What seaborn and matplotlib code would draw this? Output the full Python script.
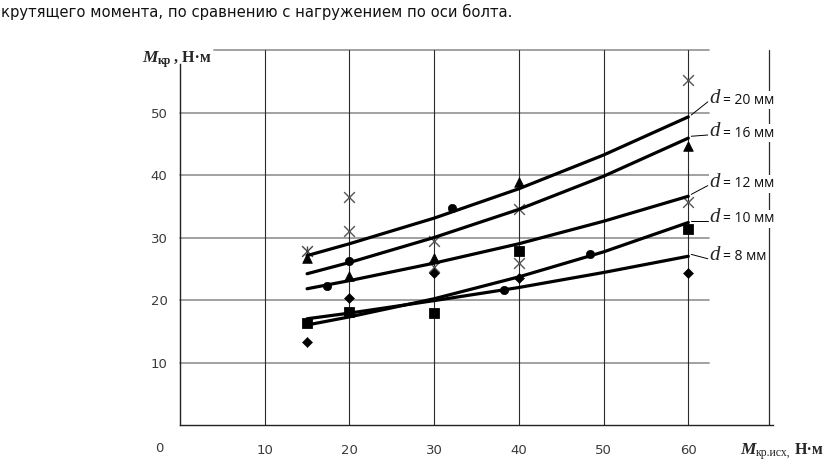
import matplotlib
matplotlib.use("Agg")
import matplotlib.pyplot as plt
import numpy as np
import pandas as pd
import seaborn as sns

# ---------------- data ----------------
title_text = "крутящего момента, по сравнению с нагружением по оси болта."

diameters = [20, 16, 12, 10, 8]
curve_x = [15, 20, 30, 40, 50, 60]
curve_d20 = [27.1, 29.0, 33.1, 37.8, 43.2, 49.3]
curve_d16 = [24.2, 26.0, 30.0, 34.5, 39.8, 45.9]
curve_d12 = [21.8, 23.1, 25.9, 29.0, 32.6, 36.6]
curve_d10 = [16.0, 17.3, 20.2, 23.7, 27.7, 32.4]
curve_d8 = [17.0, 17.9, 19.9, 22.0, 24.4, 27.0]

cross_x = [20, 20, 30, 30, 40, 40, 60, 60]
cross_y = [36.5, 31.0, 29.5, 25.3, 34.5, 25.9, 55.2, 35.7]
aster_x = [15]
aster_y = [27.8]
tri_x = [15, 20, 30, 40, 60]
tri_y = [26.8, 23.9, 26.8, 38.9, 44.7]
circ_x = [17.3, 20, 32.1, 38.2, 48.4]
circ_y = [22.3, 26.2, 34.7, 21.6, 27.3]
diam_x = [15, 20, 30, 40, 60]
diam_y = [13.3, 20.4, 24.3, 23.6, 24.4]
sq_x = [15, 20, 30, 40, 60]
sq_y = [16.4, 18.1, 17.9, 27.9, 31.4]

x_ticks = [0, 10, 20, 30, 40, 50, 60, 70]
x_tick_labels = ["", "10", "20", "30", "40", "50", "60", ""]
y_ticks = [10, 20, 30, 40, 50]
y_tick_labels = ["10", "20", "30", "40", "50"]

# ---------------- layout ----------------
label_y = [52.2, 46.9, 38.8, 33.2, 27.1]

sns.set_style("white")
plt.rcParams["font.family"] = ["DejaVu Sans"]

W, H = 830, 472
fig = plt.figure(figsize=(W / 100, H / 100), dpi=100)
L, R, T, B = 180, 773, 50, 425
ax = fig.add_axes([L / W, 1 - B / H, (R - L) / W, (B - T) / H])
ax.set_xlim(0, 70)
ax.set_ylim(0, 60)

def fx(px):
    return px / W

def fy(py):
    return 1 - py / H

# grid
for yv in [10, 20, 30, 40, 50, 60]:
    ax.plot([0 if yv < 60 else 4.0, 62.4], [yv, yv], color="#9a9a9a", lw=1.3,
            zorder=1, clip_on=False)
for xv in [10, 20, 30, 40, 50, 60]:
    ax.plot([xv, xv], [0, 60], color="#2a2a2a", lw=0.8, zorder=1, clip_on=False)
ax.plot([69.5, 69.5], [0, 60], color="#2a2a2a", lw=0.9, zorder=1, clip_on=False)

# curves
curves = pd.DataFrame({
    "x": curve_x * 5,
    "y": curve_d20 + curve_d16 + curve_d12 + curve_d10 + curve_d8,
    "d": sum([[d] * len(curve_x) for d in diameters], []),
})
sns.lineplot(data=curves, x="x", y="y", units="d", estimator=None, color="black",
             lw=2.3, ax=ax, legend=False, zorder=4)

# markers
sns.scatterplot(x=cross_x, y=cross_y, marker="x", s=60, color="#555555",
                linewidth=1.0, ax=ax, zorder=3)
sns.scatterplot(x=aster_x, y=aster_y, marker="x", s=60, color="#444444",
                linewidth=1.0, ax=ax, zorder=3)
sns.scatterplot(x=aster_x, y=aster_y, marker="|", s=60, color="#444444",
                linewidth=1.0, ax=ax, zorder=3)
sns.scatterplot(x=tri_x, y=tri_y, marker="^", s=48, color="black",
                edgecolor="black", ax=ax, zorder=3)
sns.scatterplot(x=circ_x, y=circ_y, marker="o", s=36, color="black",
                edgecolor="black", ax=ax, zorder=3)
sns.scatterplot(x=diam_x, y=diam_y, marker="D", s=26, color="black",
                edgecolor="black", ax=ax, zorder=3)
sns.scatterplot(x=sq_x, y=sq_y, marker="s", s=50, color="black",
                edgecolor="black", ax=ax, zorder=3)

# curve labels
curves_all = [curve_d20, curve_d16, curve_d12, curve_d10, curve_d8]
for d, cy, ly in zip(diameters, curves_all, label_y):
    ax.plot([60.35, 62.3], [cy[-1] + 0.3, ly - 0.5], color="black", lw=0.7,
            zorder=5, clip_on=False)
    ax.text(62.5, ly, "d", family="Liberation Serif", style="italic", fontsize=15,
            va="center", ha="left", zorder=6, clip_on=False,
            bbox=dict(facecolor="white", edgecolor="none", pad=0.5))
    ax.text(64.1, ly - 0.2, f"= {d} мм", family="Open Sans", fontsize=10,
            va="center", ha="left", zorder=6, clip_on=False, color="#111111",
            bbox=dict(facecolor="white", edgecolor="none", pad=1.0))

# axes styling
for s in ["top", "right"]:
    ax.spines[s].set_visible(False)
ax.spines["left"].set_bounds(0, 57.8)
ax.spines["left"].set_color("#222222")
ax.spines["bottom"].set_color("#222222")
ax.spines["left"].set_linewidth(1.0)
ax.spines["bottom"].set_linewidth(1.0)
ax.set_xticks(x_ticks)
ax.set_xticklabels(x_tick_labels)
ax.set_yticks(y_ticks)
ax.set_yticklabels(y_tick_labels)
ax.tick_params(axis="x", direction="out", length=4, width=0.9, pad=10,
               labelsize=9.5, labelcolor="#3a3a3a", color="#222222")
ax.tick_params(axis="y", length=0, pad=9, labelsize=9.5, labelcolor="#3a3a3a")
ax.set_xlabel("")
ax.set_ylabel("")
ax.annotate("0", xy=(0, 0), xytext=(-15, -17), textcoords="offset points",
            fontsize=9.5, color="#3a3a3a", ha="center", va="center",
            annotation_clip=False)

# axis titles
fig.text(fx(142), fy(62), "M", family="Liberation Serif", style="italic",
         weight="bold", fontsize=12.5, va="baseline", ha="left")
fig.text(fx(158), fy(64), "кр", family="Liberation Serif", weight="bold",
         fontsize=8.5, va="baseline", ha="left")
fig.text(fx(174), fy(62), ", Н·м", family="Liberation Serif", weight="bold",
         fontsize=11.5, va="baseline", ha="left")

fig.text(fx(740), fy(454), "M", family="Liberation Serif", style="italic",
         weight="bold", fontsize=12.5, va="baseline", ha="left")
fig.text(fx(756), fy(456), "кр.исх,", family="Liberation Serif",
         fontsize=8.5, va="baseline", ha="left")
fig.text(fx(795), fy(454), "Н·м", family="Liberation Serif", weight="bold",
         fontsize=11.5, va="baseline", ha="left")

# leading text
fig.text(fx(1), fy(12), title_text, fontsize=10.6,
         color="#111111", va="center", ha="left")

fig.savefig("out.png", dpi=100)
